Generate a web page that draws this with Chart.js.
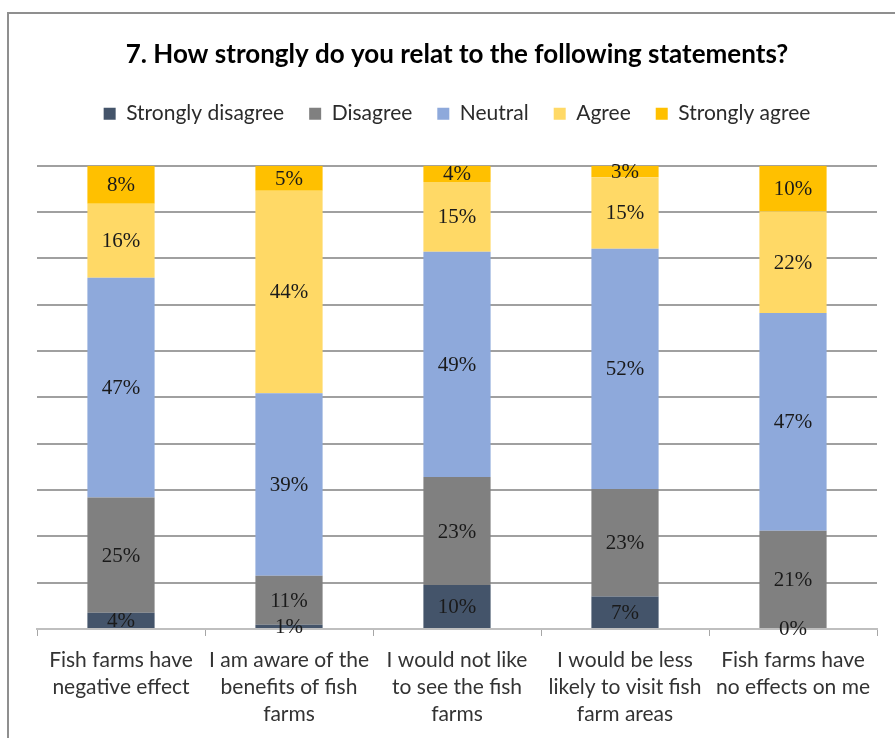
<!DOCTYPE html>
<html>
<head>
<meta charset="utf-8">
<script src="https://cdn.jsdelivr.net/npm/chart.js@4"></script>
<style>
  html, body { margin: 0; padding: 0; background: #fff; }
  #wrap { position: relative; width: 895px; height: 738px; overflow: hidden; }
  #frame { position: absolute; left: 7px; top: 12px; width: 920px; height: 760px;
           border-left: 2px solid #8f8f8f; border-top: 2px solid #8f8f8f; }
  #chart { position: absolute; left: 0; top: 0; }
</style>
</head>
<body>
<div id="wrap">
  <div id="frame"></div>
  <canvas id="chart" width="895" height="738"></canvas>
</div>
<script>
// ── Data (% of respondents) ───────────────────────────────────────
const statements = [
  ['Fish farms have', 'negative effect'],
  ['I am aware of the', 'benefits of fish', 'farms'],
  ['I would not like', 'to see the fish', 'farms'],
  ['I would be less', 'likely to visit fish', 'farm areas'],
  ['Fish farms have', 'no effects on me']
];
const stronglyDisagree = [3.5, 0.9, 9.5, 7.0, 0];
const disagree         = [24.9, 10.6, 23.3, 23.2, 21.2];
const neutral          = [47.4, 39.4, 48.6, 51.9, 47.0];
const agree            = [16.0, 43.7, 15.1, 15.4, 21.9];
const stronglyAgree    = [8.2, 5.4, 3.5, 2.5, 9.9];

const FONT = 'Lato, "Open Sans", sans-serif';

// centred % labels on every stacked segment
const segmentLabels = {
  id: 'segmentLabels',
  afterDatasetsDraw(chart) {
    const { ctx } = chart;
    ctx.save();
    ctx.font = '21px "Liberation Serif", "Times New Roman", serif';
    ctx.fillStyle = '#1a1a1a';
    ctx.textAlign = 'center';
    ctx.textBaseline = 'middle';
    chart.data.datasets.forEach((ds, i) => {
      chart.getDatasetMeta(i).data.forEach((bar, j) => {
        const { x, y, base } = bar.getProps(['x', 'y', 'base'], true);
        ctx.fillText(Math.round(ds.data[j]) + '%', x, (y + base) / 2 + 1);
      });
    });
    ctx.restore();
  }
};

const mk = (label, data, color) => ({
  label, data, backgroundColor: color, borderWidth: 0, xAxisID: 'x',
  barPercentage: 0.4, categoryPercentage: 1
});

new Chart(document.getElementById('chart'), {
  type: 'bar',
  data: {
    labels: statements,
    datasets: [
      mk('Strongly disagree', stronglyDisagree, '#44546A'),
      mk('Disagree', disagree, '#808080'),
      mk('Neutral', neutral, '#8EA9DB'),
      mk('Agree', agree, '#FFD966'),
      mk('Strongly agree', stronglyAgree, '#FFC000')
    ]
  },
  options: {
    responsive: false,
    animation: false,
    layout: { padding: { left: 37, right: 18, top: 0, bottom: 0 } },
    plugins: {
      title: {
        display: true,
        text: '7. How strongly do you relat to the following statements?',
        color: '#000',
        font: { family: FONT, size: 26, weight: 'bold' },
        padding: { top: 39, bottom: 8 }
      },
      legend: {
        position: 'top',
        labels: {
          boxWidth: 12, boxHeight: 12, padding: 25,
          color: '#2b2b2b',
          font: { family: FONT, size: 21 }
        }
      },
      tooltip: { enabled: false }
    },
    scales: {
      x: {
        stacked: true,
        grid: { display: true, offset: true, drawOnChartArea: false, drawTicks: true,
                tickLength: 7, color: '#a6a6a6' },
        border: { display: true, color: '#bfbfbf', width: 2 },
        ticks: { color: '#333', padding: 10.5, maxRotation: 0,
                 font: { family: FONT, size: 21, lineHeight: 1.286 } }
      },
      // empty top axis: only keeps the gap between legend and plot
      gap: {
        axis: 'x', type: 'category', position: 'top',
        grid: { display: false }, border: { display: false },
        ticks: { display: false },
        afterFit: s => { s.height = 31.5; }
      },
      y: {
        stacked: true,
        min: 0, max: 100,
        ticks: { display: false, stepSize: 10 },
        grid: { color: '#a0a0a0', lineWidth: 2, drawTicks: false },
        border: { display: false }
      }
    }
  },
  plugins: [segmentLabels]
});
</script>
</body>
</html>
